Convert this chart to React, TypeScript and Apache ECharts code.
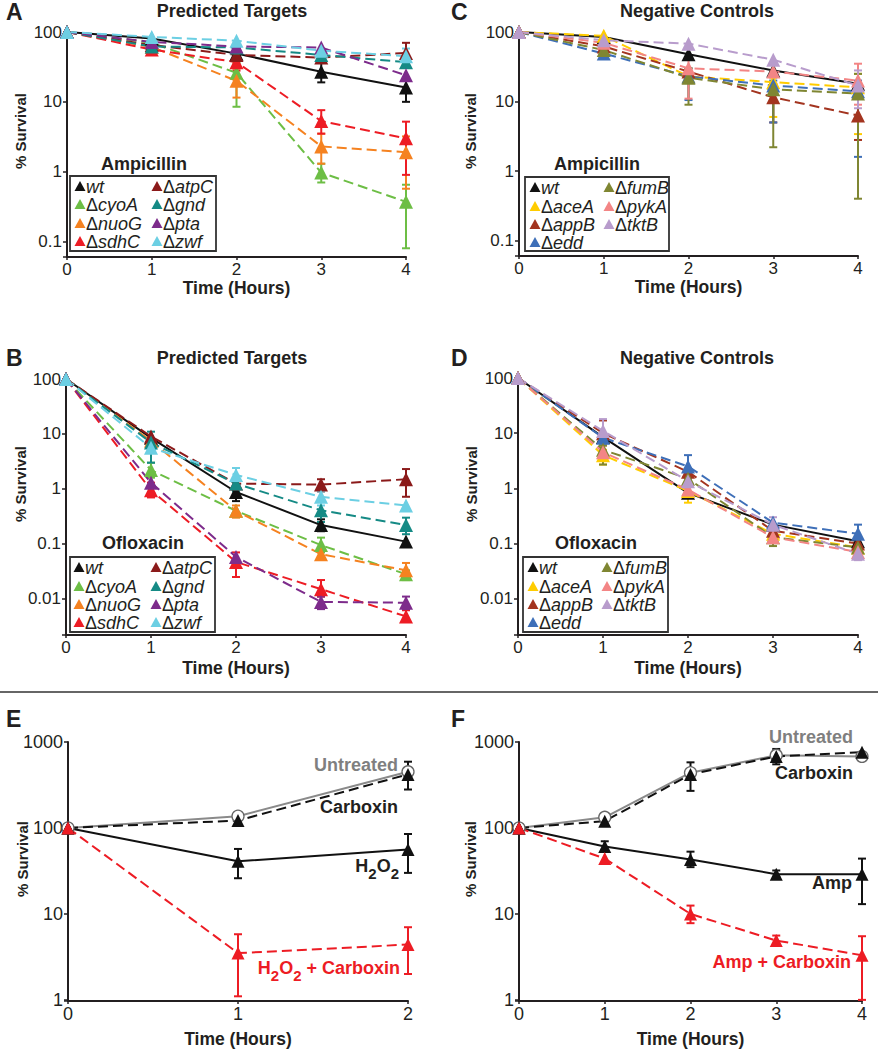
import React, { useEffect, useRef } from 'react';
import * as echarts from 'echarts';

const FONT = '"Liberation Sans", Arial, Helvetica, sans-serif';
const INK = '#231F20';

// ---------- data ----------
const HOURS4 = [0, 1, 2, 3, 4];
const HOURS2 = [0, 1, 2];
const TICKS_AC = [0.1, 1, 10, 100];
const TICKS_BD = [0.01, 0.1, 1, 10, 100];
const TICKS_EF = [1, 10, 100, 1000];

type Err = [number, number] | null;

// Panel A: Ampicillin, predicted targets
const A_wt = [100, 81, 49, 27, 16];
const A_cyoA = [100, 70, 26, 0.97, 0.37];
const A_nuoG = [100, 61, 20, 2.3, 1.9];
const A_sdhC = [100, 56, 37, 5.3, 3.0];
const A_atpC = [100, 65, 47, 43, 50];
const A_gnd = [100, 62, 60, 47, 37];
const A_pta = [100, 72, 62, 60, 24];
const A_zwf = [100, 85, 75, 54, 45];
const A_wt_err: Err[] = [null, null, null, [19, 37], [10, 21]];
const A_cyoA_err: Err[] = [null, null, [8.5, 36], [0.7, 1.3], [0.08, 0.65]];
const A_nuoG_err: Err[] = [null, null, [11.5, 30], [1.3, 3.5], [0.57, 3.2]];
const A_sdhC_err: Err[] = [null, null, [28, 48], [3.5, 7.6], [0.9, 5.2]];
const A_atpC_err: Err[] = [null, null, null, [38, 50], [38, 70]];
const A_zwf_err: Err[] = [null, null, null, null, [36, 58]];

// Panel B: Ofloxacin, predicted targets
const B_wt = [100, 8.5, 0.88, 0.22, 0.11];
const B_cyoA = [100, 2.2, 0.4, 0.095, 0.028];
const B_nuoG = [100, 7.5, 0.4, 0.065, 0.033];
const B_sdhC = [100, 0.95, 0.047, 0.015, 0.0048];
const B_atpC = [100, 9, 1.25, 1.2, 1.5];
const B_gnd = [100, 7, 1.25, 0.41, 0.22];
const B_pta = [100, 1.3, 0.058, 0.0088, 0.0085];
const B_zwf = [100, 5.6, 1.8, 0.72, 0.5];
const B_wt_err: Err[] = [null, null, [0.6, 1.2], [0.17, 0.28], null];
const B_cyoA_err: Err[] = [null, [1.6, 3], null, [0.07, 0.13], [0.022, 0.033]];
const B_nuoG_err: Err[] = [null, null, [0.3, 0.5], null, [0.022, 0.045]];
const B_sdhC_err: Err[] = [null, [0.7, 1.3], [0.025, 0.07], [0.011, 0.022], [0.0038, 0.0062]];
const B_atpC_err: Err[] = [null, null, null, [0.9, 1.5], [0.72, 2.3]];
const B_gnd_err: Err[] = [null, [3, 11], [0.9, 1.5], [0.25, 0.6], [0.15, 0.3]];
const B_pta_err: Err[] = [null, null, null, [0.0065, 0.011], [0.0065, 0.011]];
const B_zwf_err: Err[] = [null, null, [1.2, 2.4], [0.5, 0.9], null];

// Panel C: Ampicillin, negative controls
const C_wt = [100, 85, 48, 28, 18];
const C_aceA = [100, 88, 23, 19, 16];
const C_appB = [100, 62, 27, 11.5, 6.3];
const C_edd = [100, 49, 23, 17, 14];
const C_fumB = [100, 55, 22, 15, 13];
const C_pykA = [100, 70, 30, 27, 20];
const C_tktB = [100, 76, 68, 40, 17];
const C_aceA_err: Err[] = [null, null, null, [6, 22], [3.4, 25]];
const C_appB_err: Err[] = [null, null, null, [5, 18], [2.8, 12]];
const C_edd_err: Err[] = [null, null, [10.5, 30], [5, 20], [1.6, 20]];
const C_fumB_err: Err[] = [null, null, [9, 30], [2.2, 25], [0.4, 25]];
const C_pykA_err: Err[] = [null, null, [11, 42], null, [9, 35]];
const C_tktB_err: Err[] = [null, null, null, null, [8, 28]];

// Panel D: Ofloxacin, negative controls
const D_wt = [100, 8.5, 0.83, 0.22, 0.11];
const D_aceA = [100, 4, 0.9, 0.15, 0.085];
const D_appB = [100, 10, 2, 0.17, 0.1];
const D_edd = [100, 8.3, 2.5, 0.24, 0.15];
const D_fumB = [100, 5, 1.5, 0.13, 0.085];
const D_pykA = [100, 4.5, 0.95, 0.13, 0.07];
const D_tktB = [100, 11, 1.35, 0.22, 0.065];
const D_aceA_err: Err[] = [null, [2.7, 5], [0.55, 1.1], null, null];
const D_appB_err: Err[] = [null, [6, 17], null, null, null];
const D_edd_err: Err[] = [null, null, [1.5, 4], null, [0.1, 0.22]];
const D_fumB_err: Err[] = [null, [2.7, 6], null, [0.09, 0.17], null];
const D_tktB_err: Err[] = [null, [7, 18], null, [0.17, 0.3], [0.05, 0.08]];

// Panel E: H2O2
const E_untreated = [100, 137, 450];
const E_carboxin = [100, 122, 420];
const E_h2o2 = [100, 41, 56];
const E_h2o2Carb = [100, 3.5, 4.4];
const E_carboxin_err: Err[] = [null, null, [280, 590]];
const E_h2o2_err: Err[] = [null, [26, 57], [30, 85]];
const E_h2o2Carb_err: Err[] = [null, [1.1, 5.8], [2.0, 7.0]];

// Panel F: Ampicillin
const F_untreated = [100, 133, 440, 700, 680];
const F_carboxin = [100, 120, 420, 680, 760];
const F_amp = [100, 61, 43, 29, 29];
const F_ampCarb = [100, 44, 10, 4.9, 3.3];
const F_carboxin_err: Err[] = [null, null, [270, 580], [550, 830], null];
const F_amp_err: Err[] = [null, [53, 70], [35, 53], [27, 32], [13, 44]];
const F_ampCarb_err: Err[] = [null, null, [7.8, 12.5], [4.4, 5.6], [1, 5.5]];

// ---------- styles ----------
const COL: Record<string, string> = {
  wt: '#111111', cyoA: '#6DBE45', nuoG: '#F58220', sdhC: '#ED1C24', atpC: '#8B1A1A',
  gnd: '#158A85', pta: '#7D2B8B', zwf: '#6CCFE3', aceA: '#FFCC00', appB: '#A3341F',
  edd: '#3E6FB8', fumB: '#7F8632', pykA: '#F38585', tktB: '#B89CCC',
  gray: '#8A8A8A', red: '#ED1C24', black: '#111111',
};

interface SDef { name: string; color: string; values: number[]; err?: Err[]; solid?: boolean; marker?: 'triangle' | 'circle'; }
interface LegendDef { title: string; box: number[]; rows: number[]; cols: number[][]; entries: string[][]; titleXY: number[]; }
interface PDef {
  letter: string; title?: string; titleX: number; titleY: number; letterX: number; letterY: number;
  left: number; top: number; width: number; height: number; hours: number[]; yMin: number; yMax: number;
  ticks: number[]; nameGap: number; yName: number[]; labelSize: number; symbolSize: number;
  series: SDef[]; legend?: LegendDef;
}

const panels: PDef[] = [
  {
    letter: 'A', title: 'Predicted Targets', titleX: 232, titleY: 11, letterX: 6, letterY: 12,
    left: 67, top: 32, width: 339, height: 225, hours: HOURS4, yMin: 0.06, yMax: 100, ticks: TICKS_AC,
    nameGap: 22, yName: [20, 131], labelSize: 17, symbolSize: 14,
    series: [
      { name: 'wt', color: COL.wt, values: A_wt, err: A_wt_err, solid: true },
      { name: 'cyoA', color: COL.cyoA, values: A_cyoA, err: A_cyoA_err },
      { name: 'nuoG', color: COL.nuoG, values: A_nuoG, err: A_nuoG_err },
      { name: 'sdhC', color: COL.sdhC, values: A_sdhC, err: A_sdhC_err },
      { name: 'atpC', color: COL.atpC, values: A_atpC, err: A_atpC_err },
      { name: 'gnd', color: COL.gnd, values: A_gnd },
      { name: 'pta', color: COL.pta, values: A_pta },
      { name: 'zwf', color: COL.zwf, values: A_zwf, err: A_zwf_err },
    ],
    legend: {
      title: 'Ampicillin', titleXY: [144, 164], box: [70, 176, 146, 75], rows: [186, 204, 223, 241],
      cols: [[80, 86], [157, 163]], entries: [['wt', 'cyoA', 'nuoG', 'sdhC'], ['atpC', 'gnd', 'pta', 'zwf']],
    },
  },
  {
    letter: 'B', title: 'Predicted Targets', titleX: 232, titleY: 358, letterX: 6, letterY: 358,
    left: 66, top: 379, width: 340, height: 256, hours: HOURS4, yMin: 0.0022, yMax: 100, ticks: TICKS_BD,
    nameGap: 24, yName: [20, 484], labelSize: 17, symbolSize: 14,
    series: [
      { name: 'wt', color: COL.wt, values: B_wt, err: B_wt_err, solid: true },
      { name: 'cyoA', color: COL.cyoA, values: B_cyoA, err: B_cyoA_err },
      { name: 'nuoG', color: COL.nuoG, values: B_nuoG, err: B_nuoG_err },
      { name: 'sdhC', color: COL.sdhC, values: B_sdhC, err: B_sdhC_err },
      { name: 'atpC', color: COL.atpC, values: B_atpC, err: B_atpC_err },
      { name: 'gnd', color: COL.gnd, values: B_gnd, err: B_gnd_err },
      { name: 'pta', color: COL.pta, values: B_pta, err: B_pta_err },
      { name: 'zwf', color: COL.zwf, values: B_zwf, err: B_zwf_err },
    ],
    legend: {
      title: 'Ofloxacin', titleXY: [143, 543], box: [70, 557, 145, 75], rows: [567, 586, 604, 622],
      cols: [[79, 85], [156, 162]], entries: [['wt', 'cyoA', 'nuoG', 'sdhC'], ['atpC', 'gnd', 'pta', 'zwf']],
    },
  },
  {
    letter: 'C', title: 'Negative Controls', titleX: 697, titleY: 11, letterX: 451, letterY: 12,
    left: 519, top: 32, width: 339, height: 224, hours: HOURS4, yMin: 0.06, yMax: 100, ticks: TICKS_AC,
    nameGap: 22, yName: [470, 131], labelSize: 17, symbolSize: 14,
    series: [
      { name: 'wt', color: COL.wt, values: C_wt, solid: true },
      { name: 'aceA', color: COL.aceA, values: C_aceA, err: C_aceA_err },
      { name: 'appB', color: COL.appB, values: C_appB, err: C_appB_err },
      { name: 'edd', color: COL.edd, values: C_edd, err: C_edd_err },
      { name: 'fumB', color: COL.fumB, values: C_fumB, err: C_fumB_err },
      { name: 'pykA', color: COL.pykA, values: C_pykA, err: C_pykA_err },
      { name: 'tktB', color: COL.tktB, values: C_tktB, err: C_tktB_err },
    ],
    legend: {
      title: 'Ampicillin', titleXY: [597, 164], box: [525, 177, 144, 74], rows: [187, 206, 224, 242],
      cols: [[535, 541], [609, 615]], entries: [['wt', 'aceA', 'appB', 'edd'], ['fumB', 'pykA', 'tktB']],
    },
  },
  {
    letter: 'D', title: 'Negative Controls', titleX: 697, titleY: 358, letterX: 451, letterY: 358,
    left: 518, top: 378, width: 340, height: 257, hours: HOURS4, yMin: 0.0022, yMax: 100, ticks: TICKS_BD,
    nameGap: 24, yName: [471, 484], labelSize: 17, symbolSize: 14,
    series: [
      { name: 'wt', color: COL.wt, values: D_wt, solid: true },
      { name: 'aceA', color: COL.aceA, values: D_aceA, err: D_aceA_err },
      { name: 'appB', color: COL.appB, values: D_appB, err: D_appB_err },
      { name: 'edd', color: COL.edd, values: D_edd, err: D_edd_err },
      { name: 'fumB', color: COL.fumB, values: D_fumB, err: D_fumB_err },
      { name: 'pykA', color: COL.pykA, values: D_pykA },
      { name: 'tktB', color: COL.tktB, values: D_tktB, err: D_tktB_err },
    ],
    legend: {
      title: 'Ofloxacin', titleXY: [596, 543], box: [523, 557, 145, 75], rows: [567, 586, 604, 622],
      cols: [[533, 539], [607, 613]], entries: [['wt', 'aceA', 'appB', 'edd'], ['fumB', 'pykA', 'tktB']],
    },
  },
  {
    letter: 'E', titleX: 0, titleY: 0, letterX: 6, letterY: 719,
    left: 68, top: 742, width: 340, height: 259, hours: HOURS2, yMin: 0.97, yMax: 1000, ticks: TICKS_EF,
    nameGap: 29, yName: [22, 859], labelSize: 18, symbolSize: 13,
    series: [
      { name: 'Untreated', color: COL.gray, values: E_untreated, solid: true, marker: 'circle' },
      { name: 'Carboxin', color: COL.black, values: E_carboxin, err: E_carboxin_err },
      { name: 'H2O2', color: COL.black, values: E_h2o2, err: E_h2o2_err, solid: true },
      { name: 'H2O2 + Carboxin', color: COL.red, values: E_h2o2Carb, err: E_h2o2Carb_err },
    ],
  },
  {
    letter: 'F', titleX: 0, titleY: 0, letterX: 451, letterY: 719,
    left: 519, top: 742, width: 343, height: 259, hours: HOURS4, yMin: 0.97, yMax: 1000, ticks: TICKS_EF,
    nameGap: 29, yName: [470, 859], labelSize: 18, symbolSize: 13,
    series: [
      { name: 'Untreated', color: COL.gray, values: F_untreated, solid: true, marker: 'circle' },
      { name: 'Carboxin', color: COL.black, values: F_carboxin, err: F_carboxin_err },
      { name: 'Amp', color: COL.black, values: F_amp, err: F_amp_err, solid: true },
      { name: 'Amp + Carboxin', color: COL.red, values: F_ampCarb, err: F_ampCarb_err },
    ],
  },
];

function logFormatter(ticks: number[]) {
  return (v: number) => {
    const e = Math.log10(v);
    const r = Math.round(e);
    if (Math.abs(e - r) > 1e-6) return '';
    const t = Math.pow(10, r);
    if (!ticks.some((k) => Math.abs(k - t) < t * 1e-6)) return '';
    return r < 0 ? t.toFixed(-r) : String(Math.round(t));
  };
}

function errRender(color: string) {
  return (params: any, api: any) => {
    const x = api.value(0);
    const lo = api.coord([x, api.value(1)]);
    const hi = api.coord([x, api.value(2)]);
    const w = 4;
    const st = { stroke: color, lineWidth: 2 };
    return {
      type: 'group',
      children: [
        { type: 'line', shape: { x1: lo[0], y1: lo[1], x2: hi[0], y2: hi[1] }, style: st },
        { type: 'line', shape: { x1: lo[0] - w, y1: lo[1], x2: lo[0] + w, y2: lo[1] }, style: st },
        { type: 'line', shape: { x1: hi[0] - w, y1: hi[1], x2: hi[0] + w, y2: hi[1] }, style: st },
      ],
    };
  };
}

function txt(x: number, y: number, text: string, size: number, opts: any = {}) {
  const align = opts.align || 'left';
  return {
    type: 'text', x, y, z: 20, rotation: opts.rotation || 0,
    style: {
      text, fill: opts.fill || INK, fontSize: size, fontWeight: opts.weight || 'bold', fontFamily: FONT,
      align, textAlign: align, verticalAlign: 'middle', textVerticalAlign: 'middle', rich: opts.rich,
    },
  };
}

function buildOption() {
  const grid: any[] = [];
  const xAxis: any[] = [];
  const yAxis: any[] = [];
  const series: any[] = [];
  const graphic: any[] = [];

  panels.forEach((p, i) => {
    grid.push({ left: p.left, top: p.top, width: p.width, height: p.height });
    xAxis.push({
      type: 'value', gridIndex: i, min: 0, max: p.hours.length - 1, interval: 1,
      axisLine: { onZero: false, lineStyle: { color: INK, width: 2 } },
      axisTick: { show: true, length: 3, lineStyle: { color: INK, width: 1.5 } },
      axisLabel: { color: INK, fontSize: p.labelSize, fontFamily: FONT, margin: 4 },
      splitLine: { show: false },
      name: 'Time (Hours)', nameLocation: 'middle', nameGap: p.nameGap,
      nameTextStyle: { color: INK, fontSize: 17.5, fontWeight: 'bold', fontFamily: FONT },
    });
    yAxis.push({
      type: 'log', logBase: 10, gridIndex: i, min: p.yMin, max: p.yMax,
      axisLine: { show: true, lineStyle: { color: INK, width: 2 } },
      axisTick: { show: true, length: 4, lineStyle: { color: INK, width: 1.5 } },
      axisLabel: { color: INK, fontSize: p.labelSize, fontFamily: FONT, margin: 5, formatter: logFormatter(p.ticks), showMinLabel: true },
      splitLine: { show: false }, minorTick: { show: false },
    });

    p.series.forEach((s) => {
      const errData = (s.err || [])
        .map((e, k) => (e ? [p.hours[k], e[0], e[1]] : null))
        .filter((d) => d !== null);
      if (errData.length) {
        series.push({
          type: 'custom', xAxisIndex: i, yAxisIndex: i, data: errData, encode: { x: 0, y: [1, 2] },
          renderItem: errRender(s.color), z: 1, silent: true, clip: false,
        });
      }
    });
    p.series.forEach((s) => {
      const circle = s.marker === 'circle';
      series.push({
        type: 'line', name: `${p.letter}-${s.name}`, xAxisIndex: i, yAxisIndex: i,
        data: p.hours.map((h, k) => [h, s.values[k]]),
        symbol: circle ? 'circle' : 'triangle', symbolSize: circle ? 12 : p.symbolSize, showSymbol: true,
        itemStyle: circle ? { color: '#ffffff', borderColor: '#666666', borderWidth: 1.3 } : { color: s.color },
        lineStyle: { color: s.color, width: 2, type: s.solid ? 'solid' : [10, 5] },
        z: 3, silent: true,
      });
    });

    // panel letter, title, y name
    graphic.push(txt(p.letterX, p.letterY, p.letter, 23));
    if (p.title) graphic.push(txt(p.titleX, p.titleY, p.title, 18, { align: 'center' }));
    graphic.push(txt(p.yName[0], p.yName[1], '% Survival', 15, { align: 'center', rotation: Math.PI / 2 }));

    if (p.legend) {
      const L = p.legend;
      graphic.push(txt(L.titleXY[0], L.titleXY[1], L.title, 18, { align: 'center' }));
      graphic.push({
        type: 'rect', z: 19, shape: { x: L.box[0], y: L.box[1], width: L.box[2], height: L.box[3] },
        style: { fill: '#ffffff', stroke: '#333333', lineWidth: 1.8 },
      });
      L.entries.forEach((col, ci) => {
        col.forEach((g, ri) => {
          const s = p.series.find((q) => q.name === g)!;
          const mx = L.cols[ci][0];
          const my = L.rows[ri];
          graphic.push({
            type: 'polygon', z: 20,
            shape: { points: [[mx, my - 5], [mx + 5.5, my + 5], [mx - 5.5, my + 5]] },
            style: { fill: s.color },
          });
          const rich = {
            d: { fontSize: 18, fontFamily: FONT, fill: INK },
            g: { fontSize: 18, fontFamily: FONT, fontStyle: 'italic', fill: INK },
          };
          const text = g === 'wt' ? '{g|wt}' : `{d|Δ}{g|${g}}`;
          graphic.push(txt(L.cols[ci][1], my + 0.5, text, 18, { weight: 'normal', rich }));
        });
      });
    }
  });

  // annotations E
  const subRich = (fill: string) => ({
    m: { fontSize: 18, fontWeight: 'bold', fontFamily: FONT, fill },
    s: { fontSize: 15, fontWeight: 'bold', fontFamily: FONT, fill, padding: [14, 0, 0, 0] },
  });
  graphic.push(txt(398, 765, 'Untreated', 18, { align: 'right', fill: '#7F7F7F' }));
  graphic.push(txt(398, 807, 'Carboxin', 18, { align: 'right' }));
  graphic.push(txt(399, 866, '{m|H}{s|2}{m|O}{s|2}', 18, { align: 'right', rich: subRich(INK) }));
  graphic.push(txt(400, 968, '{m|H}{s|2}{m|O}{s|2}{m| + Carboxin}', 18, { align: 'right', fill: COL.red, rich: subRich(COL.red) }));
  // annotations F
  graphic.push(txt(853, 737, 'Untreated', 18, { align: 'right', fill: '#7F7F7F' }));
  graphic.push(txt(853, 773, 'Carboxin', 18, { align: 'right' }));
  graphic.push(txt(852, 883, 'Amp', 18, { align: 'right' }));
  graphic.push(txt(851, 962, 'Amp + Carboxin', 18, { align: 'right', fill: COL.red }));

  // separator
  graphic.push({ type: 'line', z: 20, shape: { x1: 0, y1: 692, x2: 878, y2: 692 }, style: { stroke: '#333333', lineWidth: 1.5 } });

  return {
    animation: false,
    backgroundColor: '#ffffff',
    grid, xAxis, yAxis, series,
    graphic: { elements: graphic },
  };
}

export default function App() {
  const ref = useRef<HTMLDivElement>(null);
  useEffect(() => {
    if (!ref.current) return;
    const chart = echarts.init(ref.current, undefined, { renderer: 'svg' });
    chart.setOption(buildOption() as any);
    return () => chart.dispose();
  }, []);
  return <div ref={ref} style={{ position: 'absolute', left: 0, top: 0, width: 878, height: 1050 }} />;
}
